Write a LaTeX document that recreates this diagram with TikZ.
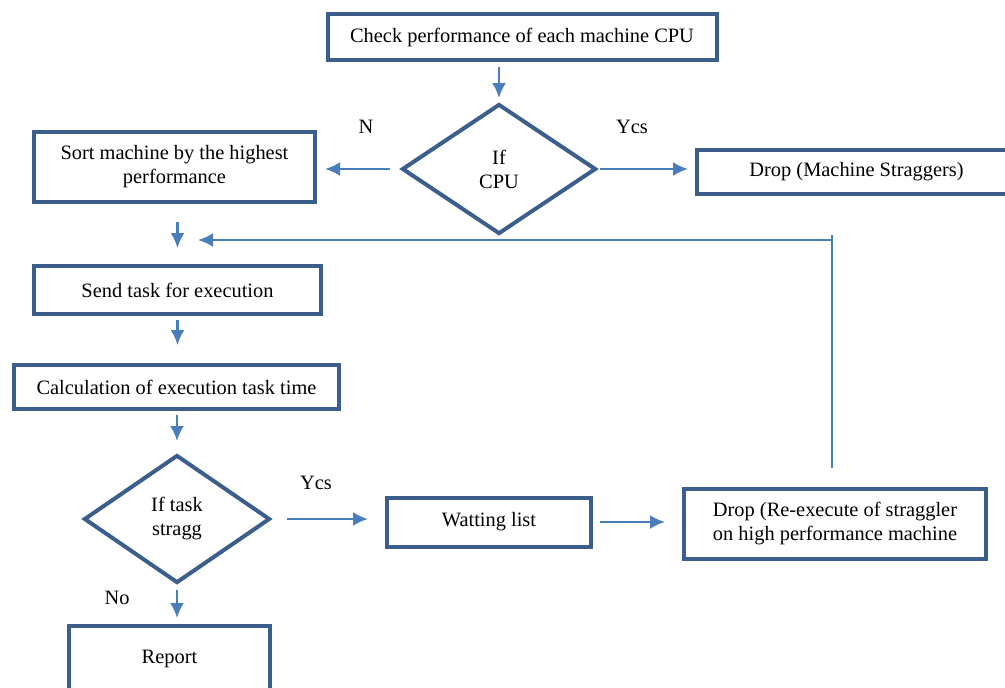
\documentclass[tikz,border=0pt]{standalone}
\usepackage{fontspec}
\setmainfont{Liberation Serif}
\usepackage{tikz}
\usetikzlibrary{arrows.meta}
\usetikzlibrary{shapes.geometric}

\definecolor{boxblue}{RGB}{60,94,140}
\definecolor{lineblue}{RGB}{74,126,187}

\begin{document}
\begin{tikzpicture}[
        x=0.5pt, y=-0.5pt,
        every node/.style={font=\fontsize{10.2}{12}\selectfont},
        stepbox/.style={rectangle, draw=boxblue, line width=2pt, align=center, inner sep=0pt},
        decide/.style={diamond, draw=boxblue, line width=2pt, align=center, inner sep=0pt, aspect=1.5},
        arrow/.style={-{Latex[width=7pt,length=7.5pt]}, line width=1.2pt, lineblue},
        link/.style={line width=1.2pt, lineblue},
        tag/.style={inner sep=0pt},
    ]
    \useasboundingbox (0,0) rectangle (1005,687);
    \clip (0,0) rectangle (1005,687);
    \node[stepbox, minimum width=194.5pt, minimum height=23pt] (check) at (522,37) {Check performance of each machine CPU};
    \node[decide, minimum width=97pt, minimum height=65pt] (cpu) at (499,169) {If\\CPU};
    \node[stepbox, minimum width=140.5pt, minimum height=35pt] (sort) at (174.5,167) {Sort machine by the highest\\performance};
    \node[stepbox, minimum width=200pt, minimum height=22pt] (dropm) at (897,172) {\hspace*{-40.5pt}Drop (Machine Straggers)};
    \node[stepbox, minimum width=143.5pt, minimum height=24pt] (send) at (177.5,290) {Send task for execution};
    \node[stepbox, minimum width=162.5pt, minimum height=22pt] (calc) at (176.5,387) {Calculation of execution task time};
    \node[decide, minimum width=93pt, minimum height=64pt] (task) at (177,519) {If task\\stragg};
    \node[stepbox, minimum width=102pt, minimum height=24.5pt] (wait) at (489,522) {Watting list};
    \node[stepbox, minimum width=151pt, minimum height=35pt] (reexec) at (835,524) {Drop (Re-execute of straggler\\on high performance machine};
    \node[stepbox, minimum width=100.5pt, minimum height=33pt] (report) at (169.5,659) {Report};

    \node[tag] (lno) at (366,127) {N};
    \node[tag] (lyes) at (632,127) {Ycs};
    \node[tag] (lyes2) at (316,483) {Ycs};
    \node[tag] (lno2) at (117,598) {No};

    \coordinate (fbtop) at (832,235);
    \coordinate (fbturn) at (832,240);
    \coordinate (fbend) at (198,240);

    \draw[arrow, shorten <=2.5pt, shorten >=2pt] (cpu.north |- check.south) -- (cpu.north);
    \draw[arrow, shorten <=5pt, shorten >=4pt] (cpu.west) -- (cpu.west -| sort.east);
    \draw[arrow, shorten <=1pt, shorten >=3.5pt] (cpu.east) -- (cpu.east -| dropm.west);
    \draw[arrow, shorten <=9pt, shorten >=8pt] (sort.south -| send.north) -- (send.north);
    \draw[arrow, shorten <=2pt, shorten >=9pt] (send.south) -- (send.south |- calc.north);
    \draw[arrow, shorten <=2pt, shorten >=6pt] (calc.south -| task.north) -- (task.north);
    \draw[arrow, shorten <=7.5pt, shorten >=8.5pt] (task.east) -- (task.east -| wait.west);
    \draw[arrow, shorten <=3.5pt, shorten >=8.5pt] (wait.east) -- (wait.east -| reexec.west);
    \draw[arrow, shorten <=2.5pt, shorten >=3pt] (task.south) -- (task.south |- report.north);
    \draw[link, shorten <=9.5pt] (reexec.north -| fbtop) -- (fbtop);
    \draw[arrow] (fbturn) -- (fbend);
\end{tikzpicture}
\end{document}
